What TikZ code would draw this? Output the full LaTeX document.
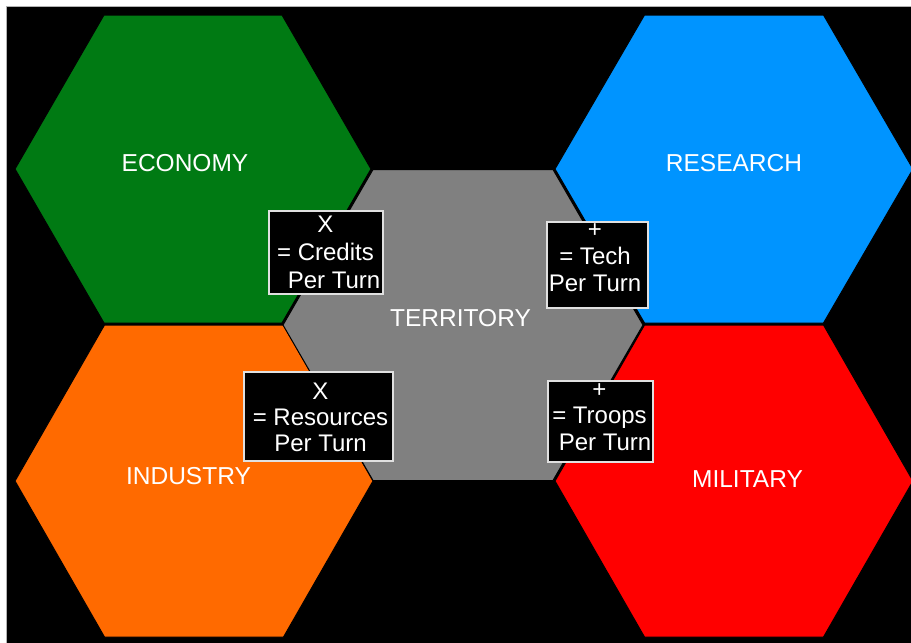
\documentclass[tikz,border=0pt]{standalone}
\usepackage{fontspec}
\setmainfont{Liberation Sans}
\definecolor{econgreen}{HTML}{007A13}
\definecolor{indorange}{HTML}{FF6A00}
\definecolor{resblue}{HTML}{0094FF}
\definecolor{milred}{HTML}{FF0000}
\definecolor{tergray}{HTML}{808080}
\begin{document}
\begin{tikzpicture}[x=1pt,y=-1pt,
  hexa/.style={draw=black, line width=1pt, line join=miter},
  hexlabel/.style={text=white, font=\fontsize{24.5}{29}\selectfont, inner sep=0pt},
  valuebox/.style={draw=white!88!black, fill=black, line width=1.3pt, inner sep=0pt},
  valuetext/.style={text=white, font=\fontsize{24}{28}\selectfont, align=center, inner sep=0pt}]
\useasboundingbox (0,0) rectangle (911,643);
% page and dark canvas
\fill[white] (0,0) rectangle (911,643);
\fill[black] (7,7) rectangle (911,643);
\draw[gray!60, line width=0.8pt] (6.5,643) -- (6.5,6.5) -- (911,6.5);
\begin{scope}
  \clip (7,7) rectangle (911,643);
  % outer hexagons
  \fill[econgreen, hexa] (15,169) -- (104,15) -- (282,15) -- (371,169) -- (282,323) -- (104,323) -- cycle;
  \fill[indorange, hexa] (15,481) -- (104.5,325) -- (283.5,325) -- (373,481) -- (283.5,637) -- (104.5,637) -- cycle;
  \fill[resblue, hexa] (555,169) -- (644.5,15) -- (823.5,15) -- (913,169) -- (823.5,323) -- (644.5,323) -- cycle;
  \fill[milred, hexa] (555,481) -- (644.5,325) -- (823.5,325) -- (913,481) -- (823.5,637) -- (644.5,637) -- cycle;
  % central hexagon
  \fill[tergray, hexa] (283,325) -- (373,169.5) -- (553,169.5) -- (643,325) -- (553,480.5) -- (373,480.5) -- cycle;
\end{scope}
% hexagon labels
\node[hexlabel] (economy) at (185,163) {ECONOMY};
\node[hexlabel] (research) at (734,163) {RESEARCH};
\node[hexlabel] (territory) at (460.5,318) {TERRITORY};
\node[hexlabel] (industry) at (188.5,476) {INDUSTRY};
\node[hexlabel] (military) at (747.5,479) {MILITARY};
% conversion boxes
\node[valuebox, minimum width=114pt, minimum height=83pt] (creditsBox) at (326,252.5) {};
\node[valuebox, minimum width=101pt, minimum height=86pt] (techBox) at (597.5,265) {};
\node[valuebox, minimum width=149pt, minimum height=89pt] (resourcesBox) at (318.5,416.5) {};
\node[valuebox, minimum width=105pt, minimum height=81pt] (troopsBox) at (600.5,421.5) {};
\node[valuetext, font=\fontsize{24}{28.3}\selectfont] (creditsText) at (325.5,252.5) {X\\= Credits\\\hspace*{17pt}Per Turn};
\node[valuetext, font=\fontsize{24}{27}\selectfont] (techText) at (595,257.5) {+\\= Tech\\Per Turn};
\node[valuetext, font=\fontsize{24}{26}\selectfont] (resourcesText) at (320.5,417.5) {X\\= Resources\\Per Turn};
\node[valuetext, font=\fontsize{24}{26.5}\selectfont] (troopsText) at (599.5,417) {+\\= Troops\\\hspace*{11pt}Per Turn};
\end{tikzpicture}
\end{document}
